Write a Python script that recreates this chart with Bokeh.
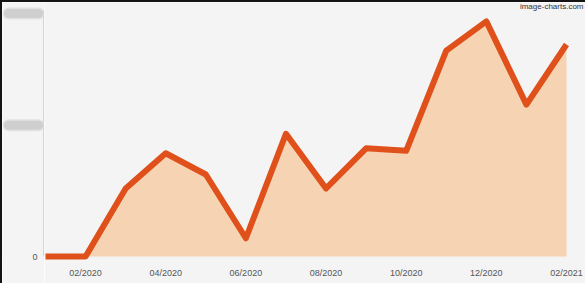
from bokeh.plotting import figure
from bokeh.models import Range1d, FixedTicker, Label, Spacer
from bokeh.layouts import column, row
from bokeh.embed import file_html
from bokeh.resources import INLINE

months = ["01/2020", "02/2020", "03/2020", "04/2020", "05/2020", "06/2020", "07/2020",
          "08/2020", "09/2020", "10/2020", "11/2020", "12/2020", "01/2021", "02/2021"]
values = [0, 0, 560, 850, 675, 150, 1010, 560, 890, 870, 1695, 1935, 1250, 1745]
y_ticks = [0, 1080, 2000]
y_tick_labels = ["0", "1080", "2000"]

x = list(range(len(months)))
zeros = [0] * len(months)

BG = "#f4f4f4"
FONT = "Liberation Sans"

# layout constants (pixels)
H = 281
BOTTOM = 23             # bottom border (x labels)
FRAME_H = H - BOTTOM    # frame spans rows 0..258
ZERO_PX = 254           # pixel row of value 0
MAX_PX = 11             # pixel row of top tick
ppu = (ZERO_PX - MAX_PX) / y_ticks[-1]
y_start = -(FRAME_H - ZERO_PX) / ppu
y_end = y_ticks[-1] + MAX_PX / ppu

LEFT_W = 42
MAIN_W = 583 - LEFT_W
FIRST_PX = 1            # column of first month inside main plot
LAST_PX = 522           # column of last month inside main plot
ppx = (LAST_PX - FIRST_PX) / (len(months) - 1)
x_start = -FIRST_PX / ppx
x_end = (len(months) - 1) + (MAIN_W - LAST_PX) / ppx

yr = Range1d(y_start, y_end)

# ---- main plot ----
p = figure(width=MAIN_W, height=H, output_backend="svg", toolbar_location=None,
           x_range=Range1d(x_start, x_end), y_range=yr, y_axis_location=None,
           min_border_left=0, min_border_right=0, min_border_top=0, min_border_bottom=BOTTOM)
p.background_fill_color = BG
p.border_fill_color = BG
p.outline_line_color = None
p.grid.visible = False

p.varea(x=x, y1=zeros, y2=values, fill_color="#f6d4b3")
p.line(x=x, y=values, line_color="#e0501a", line_width=6, line_join="round")

xa = p.xaxis[0]
xa.ticker = FixedTicker(ticks=[i for i in x if i % 2 == 1])
xa.major_label_overrides = {i: months[i] for i in x}
xa.axis_line_color = None
xa.major_tick_line_color = None
xa.minor_tick_line_color = None
xa.major_label_standoff = 1
xa.major_label_text_font = FONT
xa.major_label_text_font_size = "9px"
xa.major_label_text_color = "#555555"

p.add_layout(Label(x=MAIN_W - 2, x_units="screen", y=FRAME_H - 4, y_units="screen",
                   text="image-charts.com", text_align="right", text_baseline="middle",
                   text_font=FONT, text_font_size="8px", text_color="#333333"))

# ---- left strip: y axis line, "0" label, redacted tick labels ----
lp = figure(width=LEFT_W, height=H, output_backend="svg", toolbar_location=None,
            x_range=Range1d(0, LEFT_W), y_range=yr,
            x_axis_location=None, y_axis_location=None,
            min_border_left=0, min_border_right=0, min_border_top=0, min_border_bottom=BOTTOM)
lp.background_fill_color = BG
lp.border_fill_color = BG
lp.outline_line_color = None
lp.grid.visible = False

lp.segment(x0=[LEFT_W - 1], x1=[LEFT_W - 1], y0=[y_ticks[0]], y1=[y_ticks[-1] + 3 / ppu],
           line_color="#d4d4d4", line_width=1)
lp.text(x=[LEFT_W - 7], y=[y_ticks[0]], text=[y_tick_labels[0]], text_align="right",
        text_baseline="middle", text_font={"value": FONT}, text_font_size={"value": "9px"},
        text_color="#555555")
n = len(y_ticks) - 1
lp.segment(x0=[6] * n, x1=[36] * n, y0=y_ticks[1:], y1=y_ticks[1:],
           line_color="#d6d6d6", line_width=12, line_cap="round", line_alpha=0.6)
lp.segment(x0=[6] * n, x1=[36] * n, y0=y_ticks[1:], y1=y_ticks[1:],
           line_color="#cfcfcf", line_width=9, line_cap="round")

edge = "#141414"
layout = column(Spacer(width=585, height=2, styles={"background-color": edge}, margin=0),
                row(Spacer(width=2, height=H, styles={"background-color": edge}, margin=0),
                    lp, p, spacing=0, margin=0),
                spacing=0, margin=0)

open("out.html", "w").write(file_html(layout, INLINE))
